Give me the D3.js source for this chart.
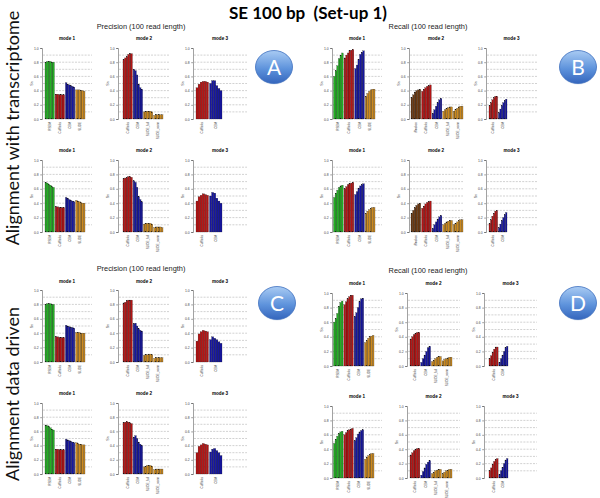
<!DOCTYPE html>
<html><head><meta charset="utf-8">
<script src="https://cdn.jsdelivr.net/npm/d3@7"></script>
<style>body{margin:0;background:#fff}svg{display:block}</style>
</head><body>
<script>
// ---------- data ----------
const yTicks = [0, 0.2, 0.4, 0.6, 0.8, 1.0];
const gridValues = [0.1,0.2,0.3,0.4,0.5,0.6,0.7,0.8,0.9];
const labelsM1 = ["RSEM", "Cufflinks", "CEM", "SLIDE"];
const labelsM2 = ["Cufflinks", "CEM", "SLIDE_full", "SLIDE_norm"];
const labelsM2B = ["iReckon", "Cufflinks", "CEM", "SLIDE_full", "SLIDE_norm"];
const labelsM3 = ["Cufflinks", "CEM"];

// Panel A (precision, alignment with transcriptome)
const A1_m1 = [[0.80,0.81,0.81,0.81,0.80,0.80],[0.35,0.35,0.34,0.34,0.34,0.34],[0.51,0.49,0.48,0.47,0.46,0.45],[0.41,0.41,0.41,0.40,0.40,0.39]];
const A1_m2 = [[0.84,0.86,0.88,0.91,0.92,0.92],[0.70,0.68,0.62,0.49,0.44,0.42],[0.10,0.11,0.11,0.11,0.11,0.10],[0.05,0.06,0.06,0.06,0.06,0.06]];
const A1_m3 = [[0.44,0.49,0.52,0.53,0.53,0.52],[0.50,0.54,0.54,0.47,0.43,0.40]];
const A2_m1 = [[0.69,0.68,0.66,0.65,0.63,0.62],[0.35,0.35,0.34,0.34,0.34,0.34],[0.48,0.47,0.45,0.44,0.43,0.42],[0.44,0.43,0.42,0.41,0.40,0.40]];
const A2_m2 = [[0.74,0.75,0.76,0.77,0.77,0.76],[0.71,0.69,0.62,0.49,0.45,0.42],[0.11,0.12,0.12,0.12,0.12,0.11],[0.06,0.07,0.07,0.07,0.07,0.06]];
const A2_m3 = [[0.43,0.49,0.51,0.53,0.52,0.51],[0.50,0.55,0.54,0.47,0.43,0.40]];
// Panel B (recall, alignment with transcriptome)
const B1_m1 = [[0.60,0.68,0.75,0.85,0.90,0.93],[0.86,0.90,0.93,0.96,0.97,0.98],[0.71,0.76,0.84,0.91,0.94,0.96],[0.32,0.36,0.39,0.41,0.42,0.42]];
const B1_m2 = [[0.30,0.34,0.38,0.40,0.41,0.42],[0.39,0.42,0.44,0.46,0.47,0.48],[0.08,0.13,0.18,0.23,0.27,0.29],[0.11,0.13,0.15,0.16,0.17,0.17],[0.11,0.13,0.15,0.17,0.18,0.18]];
const B1_m3 = [[0.19,0.23,0.27,0.30,0.32,0.32],[0.09,0.14,0.19,0.23,0.26,0.28]];
const B2_m1 = [[0.48,0.54,0.58,0.62,0.64,0.65],[0.60,0.63,0.66,0.67,0.68,0.69],[0.52,0.56,0.61,0.64,0.66,0.67],[0.26,0.29,0.31,0.33,0.34,0.34]];
const B2_m2 = [[0.26,0.30,0.34,0.37,0.39,0.40],[0.33,0.36,0.39,0.41,0.42,0.43],[0.05,0.10,0.14,0.18,0.21,0.23],[0.10,0.12,0.14,0.15,0.16,0.16],[0.10,0.12,0.14,0.16,0.17,0.17]];
const B2_m3 = [[0.12,0.17,0.22,0.26,0.29,0.30],[0.06,0.11,0.16,0.20,0.24,0.27]];
// Panel C (precision, alignment data driven)
const C1_m1 = [[0.80,0.81,0.81,0.81,0.80,0.80],[0.35,0.35,0.34,0.34,0.34,0.34],[0.51,0.50,0.49,0.48,0.48,0.47],[0.41,0.41,0.41,0.40,0.40,0.40]];
const C1_m2 = [[0.82,0.83,0.85,0.86,0.86,0.86],[0.53,0.54,0.50,0.46,0.44,0.43],[0.09,0.10,0.10,0.11,0.11,0.10],[0.05,0.06,0.06,0.06,0.06,0.06]];
const C1_m3 = [[0.29,0.39,0.42,0.44,0.43,0.42],[0.31,0.35,0.33,0.31,0.28,0.26]];
const C2_m1 = [[0.69,0.68,0.67,0.65,0.63,0.62],[0.35,0.35,0.34,0.34,0.34,0.34],[0.49,0.48,0.47,0.46,0.45,0.44],[0.44,0.43,0.42,0.42,0.41,0.41]];
const C2_m2 = [[0.72,0.73,0.74,0.73,0.72,0.71],[0.52,0.54,0.50,0.45,0.42,0.40],[0.10,0.11,0.12,0.12,0.12,0.11],[0.06,0.07,0.07,0.07,0.07,0.07]];
const C2_m3 = [[0.30,0.39,0.41,0.43,0.42,0.41],[0.31,0.35,0.36,0.33,0.30,0.26]];
// Panel D (recall, alignment data driven)
const D1_m1 = [[0.60,0.65,0.72,0.82,0.87,0.89],[0.84,0.88,0.92,0.95,0.97,0.97],[0.68,0.73,0.80,0.88,0.92,0.93],[0.32,0.35,0.38,0.40,0.41,0.42]];
const D1_m2 = [[0.37,0.40,0.43,0.45,0.46,0.46],[0.05,0.10,0.15,0.20,0.25,0.27],[0.06,0.08,0.10,0.12,0.13,0.13],[0.07,0.09,0.10,0.11,0.12,0.12]];
const D1_m3 = [[0.10,0.14,0.19,0.23,0.26,0.26],[0.05,0.10,0.15,0.20,0.25,0.27]];
const D2_m1 = [[0.48,0.54,0.58,0.62,0.64,0.65],[0.60,0.63,0.66,0.67,0.68,0.69],[0.52,0.56,0.61,0.64,0.66,0.67],[0.26,0.29,0.31,0.33,0.34,0.34]];
const D2_m2 = [[0.32,0.35,0.38,0.40,0.41,0.41],[0.04,0.09,0.14,0.19,0.22,0.24],[0.06,0.08,0.10,0.11,0.12,0.12],[0.06,0.08,0.10,0.11,0.12,0.12]];
const D2_m3 = [[0.10,0.14,0.19,0.23,0.26,0.27],[0.05,0.10,0.15,0.20,0.25,0.27]];

// ---------- styles ----------
const toolColor = {
  "RSEM": "#22b022", "iReckon": "#6b3810", "Cufflinks": "#b41414", "CEM": "#1616a0",
  "SLIDE": "#cc8a1e", "SLIDE_full": "#cc8a1e", "SLIDE_norm": "#cc8a1e"
};

const svg = d3.select("body").append("svg").attr("width", 600).attr("height", 498);
const defs = svg.append("defs");
const grad = defs.append("linearGradient").attr("id", "bub").attr("x1", 0).attr("y1", 0).attr("x2", 0).attr("y2", 1);
grad.append("stop").attr("offset", "0%").attr("stop-color", "#a9cbf3");
grad.append("stop").attr("offset", "55%").attr("stop-color", "#5e93dc");
grad.append("stop").attr("offset", "100%").attr("stop-color", "#3566bd");

const sans = "'Liberation Sans', Arial, sans-serif";

// title
svg.append("text").attr("x", 308).attr("y", 19).attr("text-anchor", "middle")
  .style("font-family", "Lato, 'Open Sans', sans-serif").style("font-weight", "bold")
  .style("font-size", "17px").style("white-space", "pre").text("SE 100 bp  (Set-up 1)");

// side labels
[["Alignment with transcriptome", 128], ["Alignment data driven", 394]].forEach(([t, y]) => {
  svg.append("text").attr("transform", `translate(19,${y}) rotate(-90)`)
    .attr("text-anchor", "middle").style("font-family", "Lato, 'Open Sans', sans-serif")
    .style("font-size", "18px").attr("fill", "#111").text(t);
});

function drawMode(cfg, data, labels, title) {
  const g = svg.append("g");
  const y = d3.scaleLinear().domain([0, 1]).range([cfg.bot, cfg.top]);
  // grid
  g.selectAll("line.grid").data(gridValues).join("line")
    .attr("x1", cfg.ax + 1).attr("x2", cfg.gx)
    .attr("y1", d => y(d)).attr("y2", d => y(d))
    .attr("stroke", "#9a9a9a").attr("stroke-width", 0.45).attr("stroke-dasharray", "2,1.2");
  // y axis
  const ax = g.append("g").attr("transform", `translate(${cfg.ax},0)`)
    .call(d3.axisLeft(y).tickValues(yTicks).tickFormat(d3.format(".1f")).tickSize(1.8).tickPadding(1.5));
  ax.select(".domain").attr("stroke", "#444").attr("stroke-width", 0.5);
  ax.selectAll(".tick line").attr("stroke", "#444").attr("stroke-width", 0.5);
  ax.selectAll("text").style("font-family", sans).style("font-size", "3.4px").attr("fill", "#444");
  // y label
  g.append("text").attr("transform", `translate(${cfg.ax - 9},${(cfg.top + cfg.bot) / 2}) rotate(-90)`)
    .attr("text-anchor", "middle").style("font-family", sans).style("font-size", "3.6px").attr("fill", "#444").text("Sn");
  // mode title
  g.append("text").attr("x", (cfg.ax + cfg.gx) / 2).attr("y", cfg.ty).attr("text-anchor", "middle")
    .style("font-family", sans).style("font-weight", "bold").style("font-size", "4.6px").text(title);
  // bars
  const xg = d3.scaleBand().domain(d3.range(data.length)).range([cfg.x0, cfg.x1]).paddingInner(0.08);
  const xb = d3.scaleBand().domain(d3.range(data[0].length)).range([0, xg.bandwidth()]);
  data.forEach((vals, gi) => {
    const col = toolColor[labels[gi]];
    g.selectAll(null).data(vals).join("rect")
      .attr("x", (d, i) => xg(gi) + xb(i)).attr("width", xb.bandwidth())
      .attr("y", d => y(d)).attr("height", d => y(0) - y(d))
      .attr("fill", col).attr("stroke", "#111").attr("stroke-width", 0.22);
    g.append("text")
      .attr("transform", `translate(${xg(gi) + xg.bandwidth() / 2 + 1},${cfg.bot + 3}) rotate(-90)`)
      .attr("text-anchor", "end").style("font-family", sans).style("font-size", "3px").attr("fill", "#333")
      .text(labels[gi]);
  });
}

function bubble(cx, cy, letter) {
  svg.append("ellipse").attr("cx", cx).attr("cy", cy + 1).attr("rx", 18.5).attr("ry", 16.5)
    .attr("fill", "#cfd9e6").attr("opacity", 0.6);
  svg.append("ellipse").attr("cx", cx).attr("cy", cy).attr("rx", 18.5).attr("ry", 16.5)
    .attr("fill", "url(#bub)").attr("stroke", "#3f70bf").attr("stroke-width", 0.8);
  svg.append("text").attr("x", cx).attr("y", cy + 7.5).attr("text-anchor", "middle")
    .style("font-family", "Lato, 'Open Sans', sans-serif").style("font-size", "21px").attr("fill", "#fff").text(letter);
}

function sectionTitle(x, y, t) {
  svg.append("text").attr("x", x).attr("y", y).attr("text-anchor", "middle")
    .style("font-family", sans).style("font-size", "7.4px").attr("fill", "#222").text(t);
}

// ---------- layout ----------
const Lx = [{ ax: 42, x0: 45, x1: 85, gx: 92 }, { ax: 118, x0: 123, x1: 163, gx: 170 }, { ax: 193, x0: 196, x1: 222, gx: 247 }];
const Bx = [{ ax: 332, x0: 333.5, x1: 375, gx: 382 }, { ax: 409, x0: 411, x1: 463, gx: 463 }, { ax: 486, x0: 489, x1: 507, gx: 537 }];
const Dx = [{ ax: 332, x0: 333.5, x1: 374, gx: 382 }, { ax: 407, x0: 410, x1: 452, gx: 460 }, { ax: 484, x0: 489, x1: 508, gx: 537 }];
const rowA1 = { top: 48, bot: 119, ty: 40 }, rowA2 = { top: 160, bot: 232, ty: 152 };
const rowC1 = { top: 290, bot: 362, ty: 283 }, rowC2 = { top: 403, bot: 474, ty: 395 };
const rowD1 = { top: 293, bot: 366, ty: 285 }, rowD2 = { top: 406, bot: 478, ty: 398 };

function row(xs, r, m1, m2, m3, l2) {
  drawMode(Object.assign({}, xs[0], r), m1, labelsM1, "mode 1");
  drawMode(Object.assign({}, xs[1], r), m2, l2, "mode 2");
  drawMode(Object.assign({}, xs[2], r), m3, labelsM3, "mode 3");
}

sectionTitle(141, 29, "Precision (100 read length)");
row(Lx, rowA1, A1_m1, A1_m2, A1_m3, labelsM2);
row(Lx, rowA2, A2_m1, A2_m2, A2_m3, labelsM2);
bubble(274, 67, "A");

sectionTitle(428, 29, "Recall (100 read length)");
row(Bx, rowA1, B1_m1, B1_m2, B1_m3, labelsM2B);
row(Bx, rowA2, B2_m1, B2_m2, B2_m3, labelsM2B);
bubble(578, 67, "B");

sectionTitle(141, 271, "Precision (100 read length)");
row(Lx, rowC1, C1_m1, C1_m2, C1_m3, labelsM2);
row(Lx, rowC2, C2_m1, C2_m2, C2_m3, labelsM2);
bubble(277, 303, "C");

sectionTitle(428, 273, "Recall (100 read length)");
row(Dx, rowD1, D1_m1, D1_m2, D1_m3, labelsM2);
row(Dx, rowD2, D2_m1, D2_m2, D2_m3, labelsM2);
bubble(578, 303, "D");
</script>
</body></html>
